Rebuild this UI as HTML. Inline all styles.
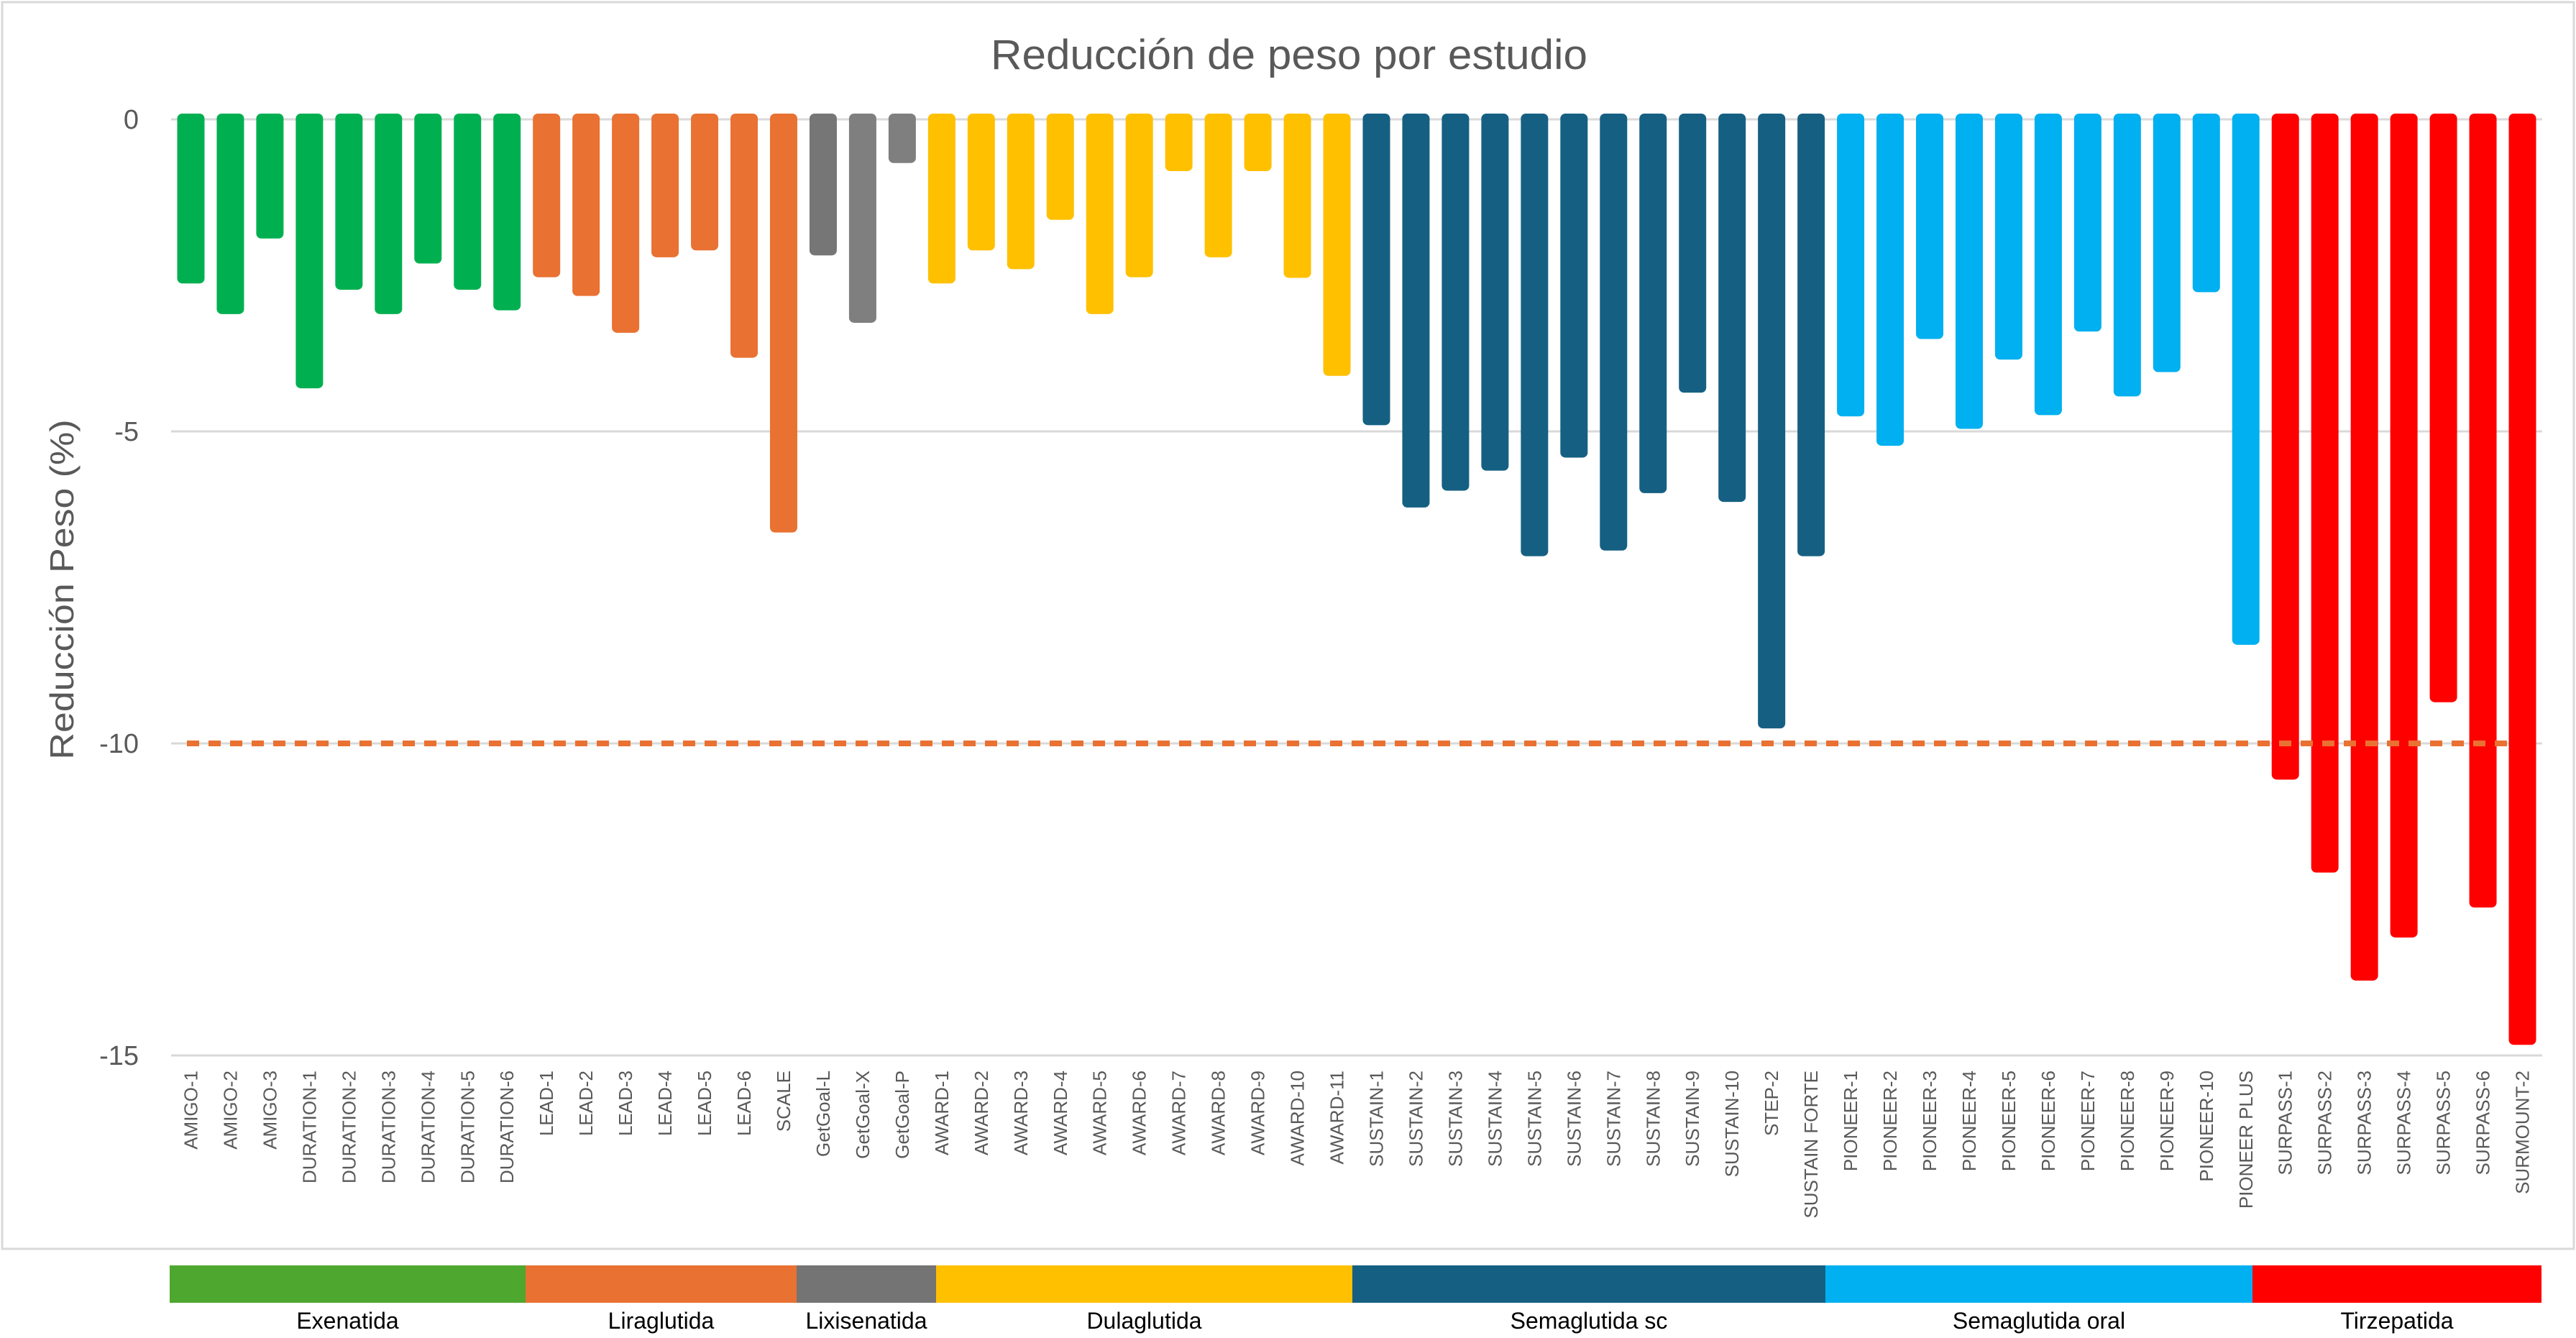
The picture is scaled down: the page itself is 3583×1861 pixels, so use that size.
<!DOCTYPE html>
<html><head><meta charset="utf-8"><style>
html,body{margin:0;padding:0;background:#fff;}
svg{display:block;font-family:"Liberation Sans",sans-serif;}
</style></head><body>
<svg id="chart" width="3583" height="1861" viewBox="0 0 3583 1861" xmlns="http://www.w3.org/2000/svg">
<rect x="3" y="3" width="3577" height="1734" fill="#fff" stroke="#d9d9d9" stroke-width="3"/>
<text x="1793" y="96" text-anchor="middle" font-size="58" fill="#595959" textLength="830" lengthAdjust="spacingAndGlyphs" font-family="'Liberation Sans Narrow','Liberation Sans',sans-serif">Reducción de peso por estudio</text>
<text transform="translate(102,820) rotate(-90)" text-anchor="middle" font-size="46" fill="#595959" textLength="473" lengthAdjust="spacingAndGlyphs">Reducción Peso (%)</text>
<g id="grid"></g><g id="bars"></g><g id="ref"></g><g id="xlabels"></g><g id="legend"></g>
</svg>
<script>
const categories = ["AMIGO-1","AMIGO-2","AMIGO-3","DURATION-1","DURATION-2","DURATION-3","DURATION-4","DURATION-5","DURATION-6","LEAD-1","LEAD-2","LEAD-3","LEAD-4","LEAD-5","LEAD-6","SCALE","GetGoal-L","GetGoal-X","GetGoal-P","AWARD-1","AWARD-2","AWARD-3","AWARD-4","AWARD-5","AWARD-6","AWARD-7","AWARD-8","AWARD-9","AWARD-10","AWARD-11","SUSTAIN-1","SUSTAIN-2","SUSTAIN-3","SUSTAIN-4","SUSTAIN-5","SUSTAIN-6","SUSTAIN-7","SUSTAIN-8","SUSTAIN-9","SUSTAIN-10","STEP-2","SUSTAIN FORTE","PIONEER-1","PIONEER-2","PIONEER-3","PIONEER-4","PIONEER-5","PIONEER-6","PIONEER-7","PIONEER-8","PIONEER-9","PIONEER-10","PIONEER PLUS","SURPASS-1","SURPASS-2","SURPASS-3","SURPASS-4","SURPASS-5","SURPASS-6","SURMOUNT-2"];
const values = [-2.63,-3.12,-1.91,-4.31,-2.73,-3.12,-2.31,-2.73,-3.06,-2.53,-2.83,-3.42,-2.21,-2.10,-3.82,-6.62,-2.18,-3.26,-0.70,-2.63,-2.10,-2.40,-1.61,-3.12,-2.53,-0.83,-2.21,-0.83,-2.54,-4.11,-4.90,-6.22,-5.95,-5.63,-7.00,-5.42,-6.91,-5.99,-4.38,-6.13,-9.76,-7.00,-4.76,-5.23,-3.52,-4.96,-3.85,-4.74,-3.40,-4.44,-4.05,-2.77,-8.42,-10.58,-12.07,-13.80,-13.11,-9.34,-12.63,-14.83];
const groupNames = ["Exenatida","Liraglutida","Lixisenatida","Dulaglutida","Semaglutida sc","Semaglutida oral","Tirzepatida"];
const groupSizes = [9,7,3,11,12,11,7];
const yTicks = [0,-5,-10,-15];
const refValue = -10;

const NS="http://www.w3.org/2000/svg";
const barColors=["#00B050","#E97132","#7F7F7F","#FFC000","#156082","#00B0F0","#FF0000"];
const legColors=["#4EA72E","#E97132","#747474","#FFC000","#156082","#00B0F0","#FF0000"];
const legEdges=[236,731,1108,1302,1881,2539,3133,3535];
const plotL=238, plotR=3536, y0=166, perUnit=86.8;
const band=(plotR-plotL)/categories.length;
const xC=i=>plotL+band*(i+0.5);
const yS=v=>y0-v*perUnit;
function mk(tag,attrs,parent){const e=document.createElementNS(NS,tag);for(const k in attrs)e.setAttribute(k,attrs[k]);parent.appendChild(e);return e;}

const grid=document.getElementById('grid');
yTicks.forEach(t=>{
  const l=mk('line',{x1:plotL,x2:plotR,y1:yS(t),y2:yS(t),stroke:'#d9d9d9','stroke-width':3},grid);
  
  
  const tx=mk('text',{x:193,y:yS(t)+13,'text-anchor':'end','font-size':38,fill:'#595959'},grid);
  
  
  tx.textContent=String(t);
});

const groupOf=[];groupSizes.forEach((n,g)=>{for(let k=0;k<n;k++)groupOf.push(g);});
const bars=document.getElementById('bars'), xl=document.getElementById('xlabels');
const bw=38;
values.forEach((v,i)=>{
  const top=yS(0)-8, bot=yS(v);
  let col=barColors[groupOf[i]];
  if(categories[i]==="GetGoal-L") col="#767676";
  const r=mk('rect',{x:xC(i)-bw/2,y:top,width:bw,height:bot-top,rx:7,ry:7,fill:col},bars);
  
  
  const t=mk('text',{transform:`translate(${xC(i)+9},1489) rotate(-90)`,'text-anchor':'end','font-size':26,fill:'#595959'},xl);
  
  
  t.textContent=categories[i];
});

const ref=document.getElementById('ref');
const rl=mk('line',{x1:260,x2:3500,y1:yS(refValue),y2:yS(refValue),stroke:'#E97132','stroke-width':8,'stroke-dasharray':'17 13'},ref);



const leg=document.getElementById('legend');
groupNames.forEach((name,g)=>{
  const x1=legEdges[g], x2=legEdges[g+1];
  const r=mk('rect',{x:x1,y:1760,width:x2-x1,height:52,fill:legColors[g]},leg);
  
  
  const t=mk('text',{x:(x1+x2)/2,y:1848,'text-anchor':'middle','font-size':32,fill:'#000','font-family':"'Liberation Sans Narrow','Liberation Sans',sans-serif"},leg);
  
  
  t.textContent=name;
});
</script>
</body></html>
